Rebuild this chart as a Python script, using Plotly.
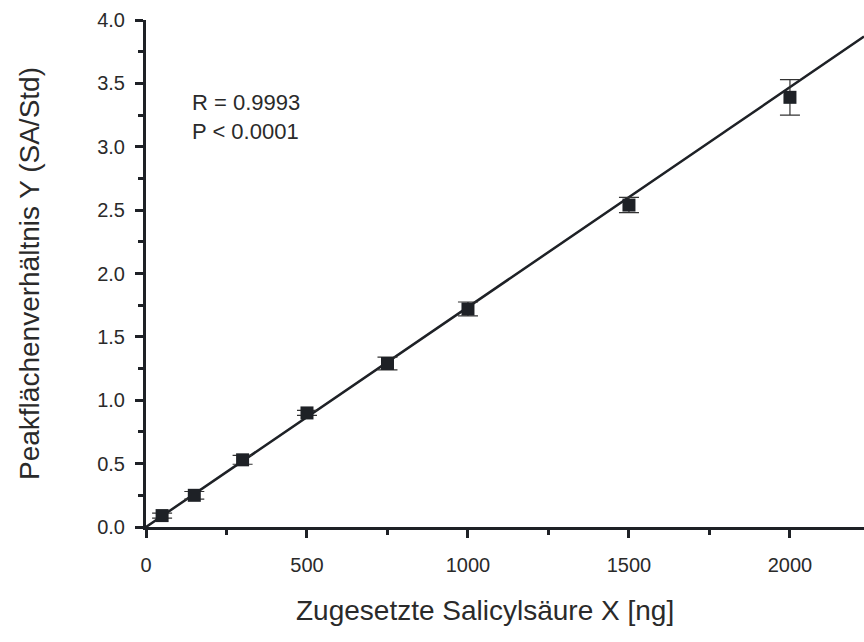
import numpy as np
import plotly.graph_objects as go

# Calibration data: added salicylic acid (ng) vs. peak area ratio SA/Std
amount_ng = [50, 150, 300, 500, 750, 1000, 1500, 2000]
peak_ratio = [0.09, 0.25, 0.53, 0.90, 1.29, 1.72, 2.54, 3.39]
ratio_err = [0.02, 0.03, 0.035, 0.02, 0.05, 0.055, 0.06, 0.14]

# Regression line parameters (through origin)
fit_slope = 0.001735
fit_intercept = 0.0

x_range = [0, 2230]
y_range = [0, 4.0]

x_ticks = [0, 500, 1000, 1500, 2000]
x_ticklabels = ["0", "500", "1000", "1500", "2000"]
y_ticks = [0.0, 0.5, 1.0, 1.5, 2.0, 2.5, 3.0, 3.5, 4.0]
y_ticklabels = ["0.0", "0.5", "1.0", "1.5", "2.0", "2.5", "3.0", "3.5", "4.0"]

ink = "#1e2126"
text_color = "#2a2a2a"
font_family = "Liberation Sans, Arial, sans-serif"

fit_x = np.linspace(x_range[0], x_range[1], 200)
fit_y = fit_slope * fit_x + fit_intercept

fig = go.Figure()

fig.add_trace(go.Scatter(
    x=fit_x, y=fit_y, mode="lines",
    line=dict(color=ink, width=2.5),
    hoverinfo="skip", showlegend=False,
))

fig.add_trace(go.Scatter(
    x=amount_ng, y=peak_ratio, mode="markers",
    marker=dict(symbol="square", size=13, color=ink),
    error_y=dict(type="data", array=ratio_err, visible=True,
                 color="#333333", thickness=1.2, width=10),
    showlegend=False,
))

fig.add_annotation(
    x=0.061, y=0.809, xref="paper", yref="paper",
    text="R = 0.9993<br>P < 0.0001", showarrow=False,
    xanchor="left", yanchor="middle", align="left",
    font=dict(family=font_family, size=22, color=text_color),
)

# x-axis title placed slightly left of the plot centre
fig.add_annotation(
    x=0.472, y=-0.165, xref="paper", yref="paper",
    text="Zugesetzte Salicylsäure X [ng]", showarrow=False,
    xanchor="center", yanchor="middle",
    font=dict(family=font_family, size=28, color=text_color),
)

axis_common = dict(
    showline=True, linecolor=ink, linewidth=3,
    ticks="outside", ticklen=8, tickwidth=3, tickcolor=ink,
    showgrid=False, zeroline=False,
    tickfont=dict(family=font_family, size=20, color=text_color),
)

fig.update_xaxes(
    range=x_range, tickvals=x_ticks, ticktext=x_ticklabels,
    ticklabelstandoff=10,
    minor=dict(dtick=250, ticks="outside", ticklen=5, tickwidth=3, tickcolor=ink),
    **axis_common,
)
fig.update_yaxes(
    range=y_range, tickvals=y_ticks, ticktext=y_ticklabels,
    ticklabelstandoff=6,
    minor=dict(dtick=0.25, ticks="outside", ticklen=5, tickwidth=3, tickcolor=ink),
    title=dict(text="Peakflächenverhältnis Y (SA/Std)", standoff=50,
               font=dict(family=font_family, size=28, color=text_color)),
    **axis_common,
)

fig.update_layout(
    width=864, height=642,
    margin=dict(l=146, r=0, t=20, b=115),
    plot_bgcolor="white", paper_bgcolor="white",
)

fig.write_html("out.html")
